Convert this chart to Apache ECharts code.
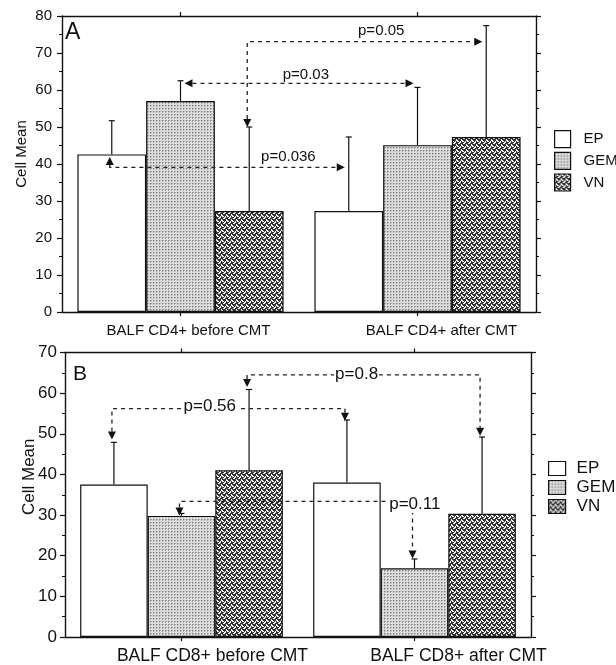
<!DOCTYPE html>
<html>
<head>
<meta charset="utf-8">
<script src="https://cdn.jsdelivr.net/npm/echarts@6/dist/echarts.min.js"></script>
<style>html,body{margin:0;padding:0;background:#fff}#c{width:616px;height:665px}</style>
</head>
<body>
<div id="c"></div>
<script>
// ---------- data ----------
const seriesNames = ['EP', 'GEM', 'VN'];
const categoriesA = ['BALF CD4+ before CMT', 'BALF CD4+ after CMT'];
const categoriesB = ['BALF CD8+ before CMT', 'BALF CD8+ after CMT'];
const yTicksA = [0, 10, 20, 30, 40, 50, 60, 70, 80];
const yTicksB = [0, 10, 20, 30, 40, 50, 60, 70];

const meanA_EP = [42.6, 27.3];
const meanA_GEM = [57.0, 45.1];
const meanA_VN = [27.3, 47.3];
const errTopA_EP = [51.7, 47.3];
const errTopA_GEM = [62.5, 60.7];
const errTopA_VN = [50.0, 77.4];

const meanB_EP = [37.5, 38.0];
const meanB_GEM = [29.8, 16.9];
const meanB_VN = [41.0, 30.3];
const errTopB_EP = [47.9, 53.4];
const errTopB_GEM = [30.4, 19.2];
const errTopB_VN = [60.9, 49.2];

// comparisons: bars referenced by category / series index, levels in data units
const comparisonsA = [
  { label: 'p=0.036', level: 39.1, from: { cat: 0, ser: 0, tip: 41.9 }, to: { cat: 1, ser: 0 } },
  { label: 'p=0.03',  level: 61.8, from: { cat: 0, ser: 1 },            to: { cat: 1, ser: 1 } },
  { label: 'p=0.05',  level: 73.05, from: { cat: 0, ser: 2, tip: 50.0 }, to: { cat: 1, ser: 2 } }
];
const comparisonsB = [
  { label: 'p=0.56', level: 56.2, from: { cat: 0, ser: 0, tip: 48.6 }, to: { cat: 1, ser: 0, tip: 53.2 } },
  { label: 'p=0.8',  level: 64.5, from: { cat: 0, ser: 2, tip: 61.5 }, to: { cat: 1, ser: 2, tip: 49.5 } },
  { label: 'p=0.11', level: 33.35, from: { cat: 0, ser: 1, tip: 29.9 }, to: { cat: 1, ser: 1, tip: 19.3 } }
];

// ---------- layout / style ----------
const labelPlaceA = [{ t: 0.76, dy: -10 }, { t: 0.53, dy: -8 }, { t: 0.57, dy: -11 }];
const labelPlaceB = [{ t: 0.42, dy: -2 }, { t: 0.47, dy: -1 }, { t: 1.01, dy: 3 }];
const FONT = 'Liberation Sans, Arial, Helvetica, sans-serif';
const BAR_FRAC = 0.87;
const AL = 8, HW = 4, VOFF = -2, HGAP = 4;

function gemPattern() {
  const c = document.createElement('canvas'); c.width = 3; c.height = 3;
  const g = c.getContext('2d');
  g.fillStyle = '#dedede'; g.fillRect(0, 0, 3, 3);
  g.fillStyle = '#808080'; g.fillRect(0, 0, 1, 1);
  g.fillStyle = '#acacac'; g.fillRect(1, 0, 1, 1); g.fillRect(0, 1, 1, 1);
  return c;
}
function vnPattern() {
  // diagonal basket weave: checker of cells (in 45deg coordinates), strands alternate direction
  const N = 10, C = 5, c = document.createElement('canvas'); c.width = N; c.height = N;
  const g = c.getContext('2d');
  const img = g.createImageData(N, N);
  const m = (a, b) => ((a % b) + b) % b;
  for (let y = 0; y < N; y++) {
    for (let x = 0; x < N; x++) {
      const u = m(x + y, N), v = m(x - y, N);
      const parity = (Math.floor(u / C) + Math.floor(v / C)) % 2;
      const s = parity === 0 ? m(v, C) : m(u, C);
      const w = s === 1 || s === 2;
      const col = w ? 245 : 52;
      const k = (y * N + x) * 4;
      img.data[k] = col; img.data[k + 1] = col; img.data[k + 2] = col; img.data[k + 3] = 255;
    }
  }
  g.putImageData(img, 0, 0);
  return c;
}
const fills = ['#ffffff', { image: gemPattern(), repeat: 'repeat' }, { image: vnPattern(), repeat: 'repeat' }];

function tri(tx, ty, dx, dy) {
  const bx = tx - dx * AL, by = ty - dy * AL;
  const px = -dy * HW, py = dx * HW;
  return { type: 'polygon', shape: { points: [[tx, ty], [bx + px, by + py], [bx - px, by - py]] }, style: { fill: '#111' } };
}

function makeAnnRender(list, place, fontSize, bg) {
  return function (params, api) {
    const a = list[params.dataIndex], p = place[params.dataIndex];
    const bw = api.size([1, 0])[0] * BAR_FRAC / 3;
    const cx = e => api.coord([e.cat, 0])[0] + (e.ser - 1) * bw;
    const yv = v => api.coord([0, v])[1];
    const yL = yv(a.level);
    const xs = cx(a.from), xe = cx(a.to);
    const pts = [], tris = [];
    let lx0, lx1;
    if (a.from.tip != null) {
      const x = xs + VOFF, ty = yv(a.from.tip), dir = ty < yL ? -1 : 1;
      pts.push([x, ty - dir * AL]); pts.push([x, yL]); tris.push(tri(x, ty, 0, dir)); lx0 = x;
    } else {
      const tx = xs + HGAP; pts.push([tx + AL, yL]); tris.push(tri(tx, yL, -1, 0)); lx0 = tx;
    }
    if (a.to.tip != null) {
      const x = xe + VOFF, ty = yv(a.to.tip), dir = ty < yL ? -1 : 1;
      pts.push([x, yL]); pts.push([x, ty - dir * AL]); tris.push(tri(x, ty, 0, dir)); lx1 = x;
    } else {
      const tx = xe - HGAP; pts.push([tx - AL, yL]); tris.push(tri(tx, yL, 1, 0)); lx1 = tx;
    }
    const children = [{
      type: 'polyline', shape: { points: pts },
      style: { stroke: '#222', lineWidth: 1.3, lineDash: [4, 4], fill: null }
    }].concat(tris);
    const ts = {
      text: a.label, x: lx0 + p.t * (lx1 - lx0), y: yL + p.dy,
      align: 'center', verticalAlign: 'middle',
      font: fontSize + 'px ' + FONT, fill: '#111'
    };
    if (bg) { ts.backgroundColor = '#fff'; ts.padding = [0, 1]; }
    children.push({ type: 'text', style: ts });
    return { type: 'group', children: children };
  };
}

function makeErrRender(ser) {
  return function (params, api) {
    const bw = api.size([1, 0])[0] * BAR_FRAC / 3;
    const x = api.coord([api.value(0), 0])[0] + (ser - 1) * bw;
    const y1 = api.coord([0, api.value(1)])[1];
    const y2 = api.coord([0, api.value(2)])[1];
    return {
      type: 'group', children: [
        { type: 'line', shape: { x1: x, y1: y1, x2: x, y2: y2 }, style: { stroke: '#111', lineWidth: 1.2 } },
        { type: 'line', shape: { x1: x - 3, y1: y2, x2: x + 3, y2: y2 }, style: { stroke: '#111', lineWidth: 1.2 } }
      ]
    };
  };
}

const axisLine = { show: true, onZero: false, lineStyle: { color: '#111', width: 1.4 } };
function catAxis(grid, cats, pos, fs, pads, margin) {
  return {
    type: 'category', gridIndex: grid, data: cats, position: pos,
    axisLine: axisLine,
    axisTick: { show: true, alignWithLabel: true, length: 4, lineStyle: { color: '#111', width: 1.2 } },
    axisLabel: pos === 'top' ? { show: false } : {
      show: true, interval: 0, hideOverlap: false, margin: margin, color: '#111', fontFamily: FONT, fontSize: fs,
      formatter: (v, i) => '{p' + i + '|' + v + '}',
      rich: { p0: { padding: [0, 0, 0, pads[0]], fontSize: fs, fontFamily: FONT, color: '#111' },
              p1: { padding: [0, 0, 0, pads[1]], fontSize: fs, fontFamily: FONT, color: '#111' } }
    },
    splitLine: { show: false }
  };
}
function valAxis(grid, ticks, pos, fs, nameGap, margin, nameShift) {
  const y = {
    type: 'value', gridIndex: grid, position: pos,
    min: ticks[0], max: ticks[ticks.length - 1], interval: ticks[1] - ticks[0],
    axisLine: axisLine,
    axisTick: { show: true, inside: false, length: 5, lineStyle: { color: '#111', width: 1.2 } },
    minorTick: { show: true, splitNumber: 2, length: 3, lineStyle: { color: '#111', width: 1 } },
    splitLine: { show: false },
    axisLabel: pos === 'right' ? { show: false } : { show: true, margin: margin, color: '#111', fontFamily: FONT, fontSize: fs }
  };
  if (pos === 'left') {
    y.name = 'Cell Mean'; y.nameLocation = 'middle'; y.nameGap = nameGap; y.nameMoveOverlap = false;
    y.nameTextStyle = { color: '#111', fontFamily: FONT, fontSize: fs, padding: [0, 0, 0, nameShift] };
  }
  return y;
}

const meansA = [meanA_EP, meanA_GEM, meanA_VN];
const meansB = [meanB_EP, meanB_GEM, meanB_VN];
const errA = [errTopA_EP, errTopA_GEM, errTopA_VN];
const errB = [errTopB_EP, errTopB_GEM, errTopB_VN];

const series = [];
function addPanel(means, errs, xi, yi) {
  seriesNames.forEach((n, s) => {
    series.push({
      name: n, type: 'bar', xAxisIndex: xi, yAxisIndex: yi, data: means[s],
      barGap: '0%', barCategoryGap: '13%',
      itemStyle: { color: fills[s], borderColor: '#111', borderWidth: 1.2 },
      emphasis: { disabled: true }
    });
  });
  seriesNames.forEach((n, s) => {
    series.push({
      type: 'custom', xAxisIndex: xi, yAxisIndex: yi, renderItem: makeErrRender(s),
      data: means[s].map((m, i) => [i, m, errs[s][i]]), encode: { x: 0, y: [1, 2] }, clip: false, z: 3
    });
  });
}
addPanel(meansA, errA, 0, 0);
addPanel(meansB, errB, 2, 2);
series.push({
  type: 'custom', xAxisIndex: 0, yAxisIndex: 0, renderItem: makeAnnRender(comparisonsA, labelPlaceA, 15, false),
  data: comparisonsA.map(a => [a.from.cat, a.level]), encode: { x: 0, y: 1 }, clip: false, z: 5
});
series.push({
  type: 'custom', xAxisIndex: 2, yAxisIndex: 2, renderItem: makeAnnRender(comparisonsB, labelPlaceB, 17, true),
  data: comparisonsB.map(a => [a.from.cat, a.level]), encode: { x: 0, y: 1 }, clip: false, z: 5
});

const chart = echarts.init(document.getElementById('c'));
chart.setOption({
  animation: false,
  backgroundColor: '#fff',
  grid: [
    { left: 62, top: 16, width: 474, height: 296 },
    { left: 65, top: 352.5, width: 466, height: 288 }
  ],
  xAxis: [
    catAxis(0, categoriesA, 'bottom', 15, [16, 48], 11),
    catAxis(0, categoriesA, 'top', 15, [0, 0], 0),
    catAxis(1, categoriesB, 'bottom', 17.5, [62, 88], 10),
    catAxis(1, categoriesB, 'top', 17.5, [0, 0], 0)
  ],
  yAxis: [
    valAxis(0, yTicksA, 'left', 15, 33, 10, 20),
    valAxis(0, yTicksA, 'right', 15, 0, 0, 0),
    valAxis(1, yTicksB, 'left', 17, 27, 8, 36),
    valAxis(1, yTicksB, 'right', 17, 0, 0, 0)
  ],
  legend: [
    { data: seriesNames, orient: 'vertical', left: 554, top: 130, padding: 0, itemWidth: 16, itemHeight: 17, itemGap: 3.5,
      icon: 'rect', selectedMode: false, itemStyle: { borderColor: '#111', borderWidth: 1.2 },
      textStyle: { fontFamily: FONT, fontSize: 15, lineHeight: 17, color: '#111', padding: [0, 0, 0, 8] } },
    { data: seriesNames, orient: 'vertical', left: 548, top: 460, padding: 0, itemWidth: 17, itemHeight: 14, itemGap: 2,
      icon: 'rect', selectedMode: false, itemStyle: { borderColor: '#111', borderWidth: 1.2 },
      textStyle: { fontFamily: FONT, fontSize: 17, lineHeight: 14, color: '#111', padding: [0, 0, 0, 6] } }
  ],
  graphic: [
    { type: 'text', left: 65, top: 21, style: { text: 'A', font: '23px ' + FONT, fill: '#111' } },
    { type: 'text', left: 73, top: 364, style: { text: 'B', font: '21px ' + FONT, fill: '#111' } }
  ],
  series: series
});
</script>
</body>
</html>
